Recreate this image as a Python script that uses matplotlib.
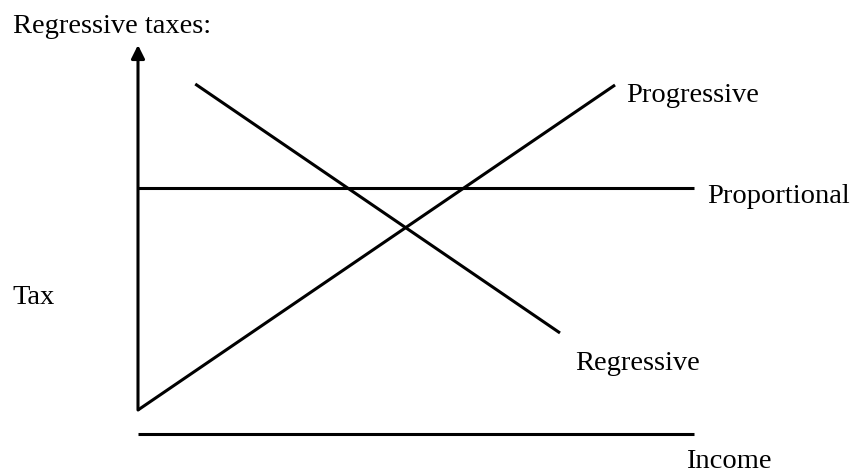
import numpy as np
from matplotlib import pyplot as plt

# diagram values (income on x, tax on y, arbitrary units)
progressive_income = [0.0, 8.58]
progressive_tax = [0.0, 10.0]
regressive_income = [1.03, 7.59]
regressive_tax = [10.03, 2.37]
proportional_income = [0.0, 10.0]
proportional_tax = [6.83, 6.83]
income_axis_income = [0.0, 10.0]
income_axis_tax = [-0.74, -0.74]
tax_axis_top = 11.23

labels = ["Progressive", "Proportional", "Regressive"]
label_x = [8.78, 10.23, 7.86]
label_y = [9.49, 6.38, 1.23]

plt.rcParams['font.family'] = ['Liberation Serif', 'DejaVu Serif']

fig = plt.figure(figsize=(8.57, 4.75), dpi=100)
ax = fig.add_axes([0, 0, 1, 1])
ax.set_xlim(-2.482, 12.932)
ax.set_ylim(-2.0, 12.615)
ax.axis("off")

lw = 2.2
ax.plot(progressive_income, progressive_tax, color="black", lw=lw,
        solid_capstyle="butt")
ax.plot(regressive_income, regressive_tax, color="black", lw=lw,
        solid_capstyle="butt")
ax.plot(proportional_income, proportional_tax, color="black", lw=lw,
        solid_capstyle="butt")
ax.plot(income_axis_income, income_axis_tax, color="black", lw=lw,
        solid_capstyle="butt")

# vertical tax axis with arrow
ax.annotate("", xy=(0, tax_axis_top), xytext=(0, 0),
            arrowprops=dict(arrowstyle="-|>", lw=lw, color="black",
                            mutation_scale=20, shrinkA=0, shrinkB=0))

fs = 20.5
for lab, x, y in zip(labels, label_x, label_y):
    ax.text(x, y, lab, fontsize=fs, va="baseline", ha="left")

ax.text(-2.25, 11.6, "Regressive taxes:", fontsize=fs, va="baseline", ha="left")
ax.text(-2.25, 3.26, "Tax", fontsize=fs, va="baseline", ha="left")
ax.text(9.85, -1.785, "Income", fontsize=fs, va="baseline", ha="left")

fig.savefig("out.png", dpi=100)
